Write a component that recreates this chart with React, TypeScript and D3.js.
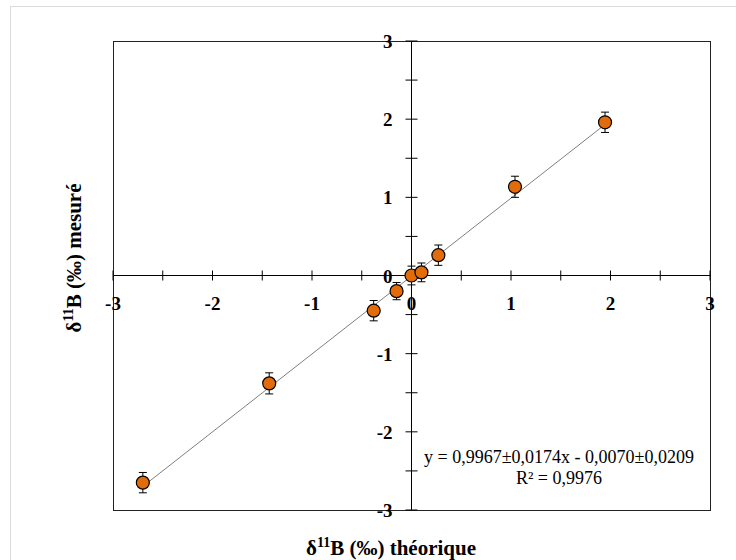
import React from "react";
import * as d3 from "d3";

const xTheo = [-2.7, -1.43, -0.38, -0.15, 0.0, 0.1, 0.27, 1.04, 1.945];
const yMes = [-2.65, -1.38, -0.45, -0.2, 0.0, 0.04, 0.26, 1.135, 1.96];
const yErr = [0.13, 0.135, 0.13, 0.11, 0.12, 0.12, 0.13, 0.135, 0.13];
const tickValues = [-3, -2, -1, 0, 1, 2, 3];
const minorTicks = [-3, -2.5, -2, -1.5, -1, -0.5, 0, 0.5, 1, 1.5, 2, 2.5, 3];
const slope = 0.9967;
const intercept = -0.007;
const equationText = "y = 0,9967±0,0174x - 0,0070±0,0209";
const r2Text = "R² = 0,9976";

export default function App() {
  const W = 736, H = 560;
  const left = 113, right = 710, top = 41, bottom = 510;
  const x = d3.scaleLinear().domain([-3, 3]).range([left, right]);
  const y = d3.scaleLinear().domain([-3, 3]).range([bottom, top]);
  const x0 = x(0), y0 = y(0);
  const font = "'Liberation Serif', 'Times New Roman', serif";
  const xMin = d3.min(xTheo) as number;
  const xMax = d3.max(xTheo) as number;
  const line = d3.line<number>().x((d) => x(d)).y((d) => y(slope * d + intercept));
  return (
    <svg width={W} height={H} style={{ position: "absolute", left: 0, top: 0 }} fontFamily={font}>
      <rect x={0} y={0} width={W} height={H} fill="#fff" />
      <rect x={10.5} y={6.5} width={W + 20} height={H + 20} fill="none" stroke="#dcdcdc" strokeWidth={1} />
      <rect x={left + 0.5} y={top + 0.5} width={right - left} height={bottom - top} fill="none" stroke="#222" strokeWidth={1} />
      <line x1={left} x2={right} y1={y0} y2={y0} stroke="#000" />
      <line x1={x0} x2={x0} y1={top} y2={bottom} stroke="#000" />
      {minorTicks.map((t, i) => (
        <line key={"xt" + i} x1={x(t)} x2={x(t)} y1={y0 - 5} y2={y0 + 5} stroke="#000" />
      ))}
      {minorTicks.map((t, i) => (
        <line key={"yt" + i} x1={x0 - 6} x2={x0 + 6} y1={y(t)} y2={y(t)} stroke="#000" />
      ))}
      {tickValues.map((t, i) => (
        <text key={"xl" + i} x={x(t)} y={y0 + 34} textAnchor="middle" fontSize={19} fontWeight="bold">
          {t}
        </text>
      ))}
      {tickValues.map((t, i) => (
        <text key={"yl" + i} x={x0 - 19} y={y(t) + 7} textAnchor="end" fontSize={19} fontWeight="bold">
          {t}
        </text>
      ))}
      <path d={line([xMin, xMax]) || ""} stroke="#7f7f7f" strokeWidth={1} fill="none" />
      {xTheo.map((xv, i) => (
        <g key={"p" + i}>
          <line x1={x(xv)} x2={x(xv)} y1={y(yMes[i] - yErr[i])} y2={y(yMes[i] + yErr[i])} stroke="#000" />
          <line x1={x(xv) - 4} x2={x(xv) + 4} y1={y(yMes[i] - yErr[i])} y2={y(yMes[i] - yErr[i])} stroke="#000" />
          <line x1={x(xv) - 4} x2={x(xv) + 4} y1={y(yMes[i] + yErr[i])} y2={y(yMes[i] + yErr[i])} stroke="#000" />
          <circle cx={x(xv)} cy={y(yMes[i])} r={6.5} fill="#E36C0A" stroke="#000" strokeWidth={1.2} />
        </g>
      ))}
      <text x={559} y={463} textAnchor="middle" fontSize={18}>{equationText}</text>
      <text x={559} y={484} textAnchor="middle" fontSize={18}>{r2Text}</text>
      <text x={391} y={555} textAnchor="middle" fontSize={21} fontWeight="bold">
        δ<tspan fontSize={14} dy={-8}>11</tspan><tspan dy={8}>B (‰) théorique</tspan>
      </text>
      <text transform={`translate(81,258) rotate(-90)`} textAnchor="middle" fontSize={21} fontWeight="bold">
        δ<tspan fontSize={14} dy={-8}>11</tspan><tspan dy={8}>B (‰) mesuré</tspan>
      </text>
    </svg>
  );
}
